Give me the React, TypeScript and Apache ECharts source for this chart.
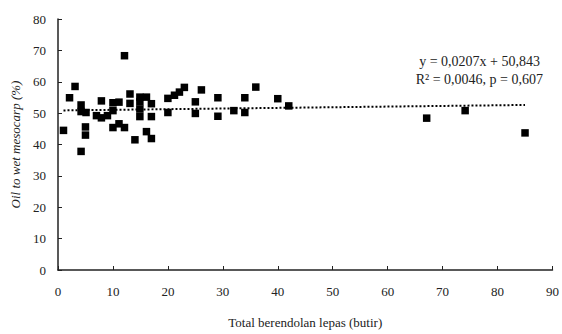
import React, { useEffect, useRef } from "react";
import * as echarts from "echarts";

const xValues = [1, 2.1, 3.1, 4.2, 4.2, 5.1, 4.2, 5, 5, 7, 7.9, 7.9, 9, 10, 10, 10, 11.1, 11.1, 12.1, 12.1, 13.1, 13.1, 14, 14.9, 14.9, 14.9, 14.9, 16.1, 16.1, 17, 17, 17, 20, 20, 21.2, 22.1, 23, 25, 25, 26.1, 29.1, 29.1, 32, 34, 34, 36, 40, 42, 67.1, 74.1, 85];
const yValues = [44.5, 54.9, 58.5, 52.6, 50.5, 50.2, 37.8, 45.6, 43, 49.2, 53.9, 48.5, 49.2, 53.3, 50.8, 45.4, 53.5, 46.6, 68.3, 45.4, 56.1, 53.1, 41.5, 55.1, 53.6, 51.3, 48.9, 55.1, 44.1, 53, 48.9, 41.9, 54.7, 50.2, 55.7, 56.7, 58.2, 53.6, 49.9, 57.4, 54.9, 49, 50.8, 54.9, 50.2, 58.3, 54.6, 52.3, 48.4, 50.8, 43.7];
const slope = 0.0207;
const intercept = 50.843;
const trendX = [1, 85];
const xTicks = [0, 10, 20, 30, 40, 50, 60, 70, 80, 90];
const yTicks = [0, 10, 20, 30, 40, 50, 60, 70, 80];
const equationText = "y = 0,0207x + 50,843";
const statsText = "R² = 0,0046, p = 0,607";
const xName = "Total berendolan lepas (butir)";
const yName = "Oil to wet mesocarp (%)";

const serif = "'Liberation Serif', 'Times New Roman', serif";

export default function App() {
  const ref = useRef<HTMLDivElement>(null);
  useEffect(() => {
    if (!ref.current) return;
    const chart = echarts.init(ref.current, undefined, { renderer: "svg" });
    const points = xValues.map((x, i) => [x, yValues[i]]);
    const trend = trendX.map((x) => [x, slope * x + intercept]);
    chart.setOption({
      animation: false,
      backgroundColor: "#fff",
      grid: { left: 58, right: 8, top: 19, bottom: 57 },
      xAxis: {
        type: "value",
        min: xTicks[0],
        max: xTicks[xTicks.length - 1],
        interval: 10,
        name: xName,
        nameLocation: "middle",
        nameGap: 46,
        nameTextStyle: { fontFamily: serif, fontSize: 13, color: "#222" },
        axisLine: { show: true, lineStyle: { color: "#222", width: 1.5 } },
        axisTick: { show: true, inside: true, length: 4, lineStyle: { color: "#222" } },
        axisLabel: { fontFamily: serif, fontSize: 13, color: "#222", margin: 15 },
        splitLine: { show: false },
      },
      yAxis: {
        type: "value",
        min: yTicks[0],
        max: yTicks[yTicks.length - 1],
        interval: 10,
        name: yName,
        nameLocation: "middle",
        nameGap: 32,
        nameTextStyle: { fontFamily: serif, fontSize: 13, fontStyle: "italic", color: "#222" },
        axisLine: { show: true, lineStyle: { color: "#222", width: 1.5 } },
        axisTick: { show: true, inside: true, length: 4, lineStyle: { color: "#222" } },
        axisLabel: { fontFamily: serif, fontSize: 13, color: "#222", margin: 12 },
        splitLine: { show: false },
      },
      graphic: [
        {
          type: "text",
          right: 22,
          top: 54,
          style: { text: equationText, font: `14px ${serif}`, fill: "#222" },
        },
        {
          type: "text",
          right: 19,
          top: 72,
          style: { text: statsText, font: `14px ${serif}`, fill: "#222" },
        },
      ],
      series: [
        {
          type: "line",
          data: trend,
          symbol: "none",
          lineStyle: { color: "#000", width: 2, type: [2, 2] },
          z: 1,
        },
        {
          type: "scatter",
          data: points,
          symbol: "rect",
          symbolSize: 7.5,
          itemStyle: { color: "#000", opacity: 1 },
          z: 2,
        },
      ],
    });
    return () => chart.dispose();
  }, []);
  return (
    <div
      ref={ref}
      style={{ position: "fixed", left: 0, top: 0, width: 562, height: 334 }}
    />
  );
}
